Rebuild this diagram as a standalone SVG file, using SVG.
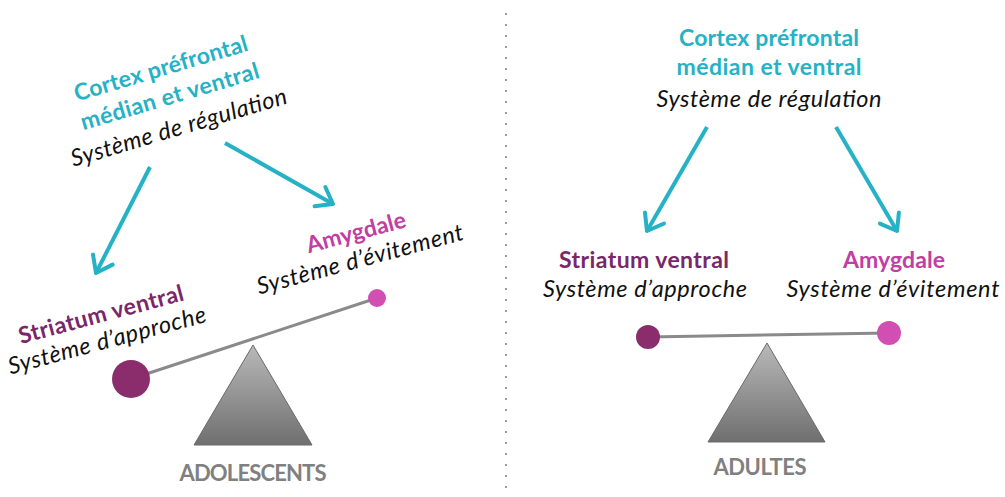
<svg xmlns="http://www.w3.org/2000/svg" width="1005" height="497" viewBox="0 0 1005 497">
<style>
.title{font-family:Lato,"Open Sans","Liberation Sans",sans-serif;font-weight:bold;font-size:23px;fill:#25b2c6;text-anchor:middle}
.sys{font-family:Lato,"Open Sans","Liberation Sans",sans-serif;font-style:italic;font-size:23.5px;fill:#111;text-anchor:middle}
.str{font-family:Lato,"Open Sans","Liberation Sans",sans-serif;font-weight:bold;font-size:23px;fill:#7a2769;text-anchor:middle}
.amy{font-family:Lato,"Open Sans","Liberation Sans",sans-serif;font-weight:bold;font-size:23px;fill:#c23ea2;text-anchor:middle}
.lab{font-family:Lato,"Open Sans","Liberation Sans",sans-serif;font-weight:bold;font-size:22px;fill:#808080;text-anchor:middle}
.arrow{stroke:#25b2c6;stroke-width:4;fill:none;marker-end:url(#head)}
.beam{stroke:#8a8a8a;stroke-width:3}
.tri{fill:url(#tg);stroke:#6a6a6a;stroke-width:1}
</style>
<defs>
<marker id="head" markerUnits="userSpaceOnUse" markerWidth="30" markerHeight="30" viewBox="-20 -15 25 30" refX="0" refY="0" orient="auto">
<path d="M-15,-11 L0,0 L-15,11" fill="none" stroke="#25b2c6" stroke-width="4" stroke-linecap="round" stroke-linejoin="round"/>
</marker>
<linearGradient id="tg" x1="0" y1="0" x2="0" y2="1">
<stop offset="0" stop-color="#b9b9b9"/>
<stop offset="1" stop-color="#6f6f6f"/>
</linearGradient>
</defs>
<rect width="1005" height="497" fill="#ffffff"/>
<line x1="506" y1="13" x2="506" y2="497" stroke="#9a9a9a" stroke-width="2" stroke-dasharray="2 9"/>

<g id="connectors">
<line class="arrow" x1="150" y1="167" x2="96" y2="273"/>
<line class="arrow" x1="225" y1="143" x2="333" y2="204"/>
<line class="arrow" x1="707" y1="127" x2="647" y2="231"/>
<line class="arrow" x1="836" y1="127" x2="897" y2="231"/>
</g>

<g id="cortex-left">
<text class="title" transform="translate(163,76) rotate(-16.5)" textLength="180">Cortex préfrontal</text>
<text class="title" transform="translate(172,104) rotate(-16.5)" textLength="185">médian et ventral</text>
<text class="sys" transform="translate(181,135) rotate(-16.5)" textLength="224">Système de régulation</text>
</g>
<g id="striatum-left">
<text class="str" transform="translate(103,322) rotate(-15)" textLength="170">Striatum ventral</text>
<text class="sys" transform="translate(109,348) rotate(-15)" textLength="204">Système d’approche</text>
</g>
<g id="amygdale-left">
<text class="amy" transform="translate(358,240) rotate(-15)" textLength="102">Amygdale</text>
<text class="sys" transform="translate(362,267) rotate(-15)" textLength="213">Système d’évitement</text>
</g>
<g id="balance-left">
<polygon class="tri" points="253,345 312,445 194,445"/>
<line class="beam" x1="131" y1="379" x2="377" y2="298"/>
<circle cx="131" cy="379" r="19" fill="#8b2d6c"/>
<circle cx="377" cy="298" r="9" fill="#d14fb3"/>
</g>
<g id="label-adolescents">
<text class="lab" x="253" y="481" textLength="147">ADOLESCENTS</text>
</g>

<g id="cortex-right">
<text class="title" x="769" y="46" textLength="180">Cortex préfrontal</text>
<text class="title" x="769" y="75" textLength="185">médian et ventral</text>
<text class="sys" x="769" y="107" textLength="225">Système de régulation</text>
</g>
<g id="striatum-right">
<text class="str" x="644" y="268" textLength="170">Striatum ventral</text>
<text class="sys" x="645" y="297" textLength="204">Système d’approche</text>
</g>
<g id="amygdale-right">
<text class="amy" x="894" y="268" textLength="102">Amygdale</text>
<text class="sys" x="893" y="297" textLength="213">Système d’évitement</text>
</g>
<g id="balance-right">
<polygon class="tri" points="767,343 825,442 708,442"/>
<line class="beam" x1="648" y1="337" x2="889" y2="333"/>
<circle cx="648" cy="337" r="12" fill="#8b2d6c"/>
<circle cx="889" cy="333" r="12" fill="#d14fb3"/>
</g>
<g id="label-adultes">
<text class="lab" x="760" y="475" textLength="93">ADULTES</text>
</g>
</svg>
